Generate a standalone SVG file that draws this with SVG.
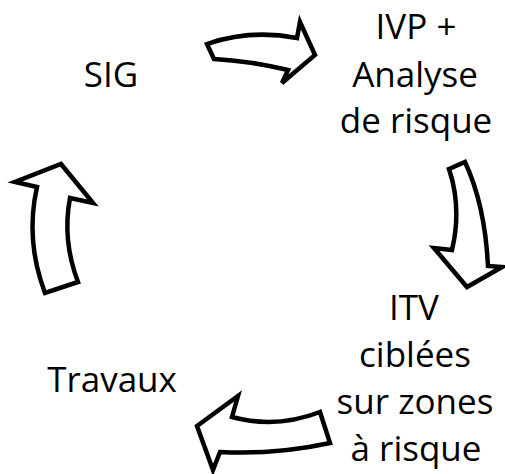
<svg xmlns="http://www.w3.org/2000/svg" width="505" height="474" viewBox="0 0 505 474">
<style>
.lbl{font-family:"Open Sans","Noto Sans",sans-serif;font-size:35px;fill:#000;text-anchor:middle}
.arr{fill:#fff;stroke:#000;stroke-width:4.5;stroke-linejoin:miter}
</style>
<rect width="505" height="474" fill="#fff"/>
<g id="connectors">
<path class="arr" d="M207,44 Q250,29 297,38 L300,22 L315,55 L282,83 L288,70 Q250,61 214,59 Z"/>
<path class="arr" d="M449,169 L465,162 Q485,205 488,266 L502,267 L467,287 L434,248 L452,250 Q462,208 449,169 Z"/>
<path class="arr" d="M320,412 Q276,429 232,417 L238,396 L197,426 L213,470 L220,452 Q275,455 330,443 Z"/>
<path class="arr" d="M61,164 L93,203 L70,198 Q62,240 78,282 L45,293 Q25,240 37,187 L15,182 Z"/>
</g>
<g id="node-sig"><text class="lbl" x="111" y="87">SIG</text></g>
<g id="node-ivp">
<text class="lbl" x="416" y="39">IVP +</text>
<text class="lbl" x="415" y="87">Analyse</text>
<text class="lbl" x="416" y="133">de risque</text>
</g>
<g id="node-itv">
<text class="lbl" x="414" y="320">ITV</text>
<text class="lbl" x="415" y="367">ciblées</text>
<text class="lbl" x="415" y="414">sur zones</text>
<text class="lbl" x="416" y="461">à risque</text>
</g>
<g id="node-travaux"><text class="lbl" x="112" y="392">Travaux</text></g>
</svg>
